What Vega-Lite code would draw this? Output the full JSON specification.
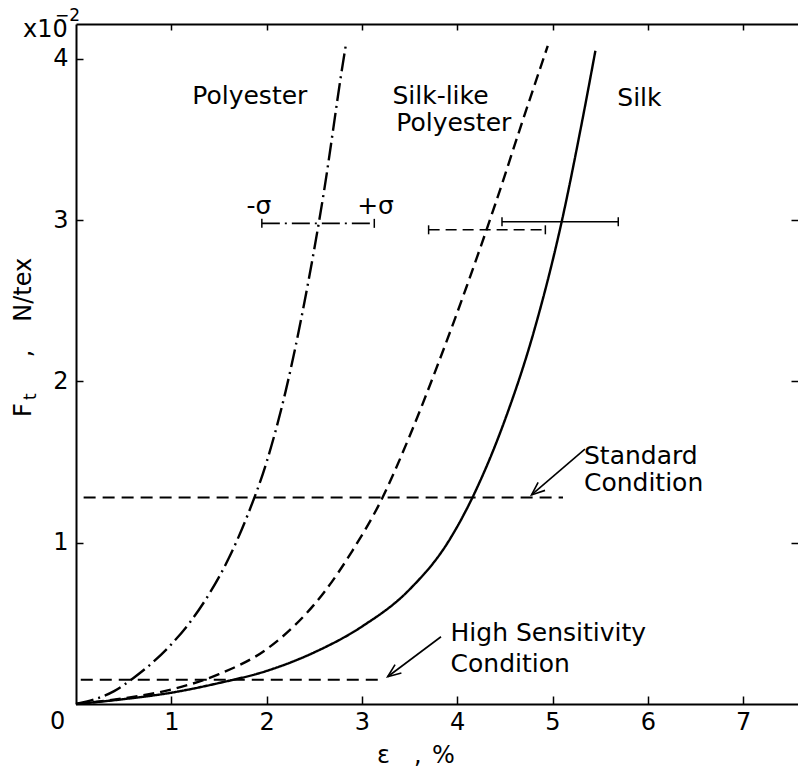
{
  "$schema": "https://vega.github.io/schema/vega-lite/v6.json",
  "width": 722,
  "height": 680,
  "autosize": {"type": "none"},
  "padding": {"left": 76, "top": 24, "right": 0, "bottom": 66},
  "background": "white",
  "config": {
    "view": {"stroke": null},
    "font": "DejaVu Sans",
    "axis": {"domainColor": "black", "tickColor": "black", "labelColor": "black", "grid": false, "labelFont": "DejaVu Sans", "labelFontSize": 24, "domainWidth": 2, "tickWidth": 1.5}
  },
  "datasets": {
    "curves": [
      {"series": "Polyester", "e": 0, "f": 0},
      {"series": "Polyester", "e": 0.2, "f": 0.03},
      {"series": "Polyester", "e": 0.4, "f": 0.08},
      {"series": "Polyester", "e": 0.6, "f": 0.16},
      {"series": "Polyester", "e": 0.8, "f": 0.255},
      {"series": "Polyester", "e": 1.0, "f": 0.37},
      {"series": "Polyester", "e": 1.2, "f": 0.51},
      {"series": "Polyester", "e": 1.4, "f": 0.685},
      {"series": "Polyester", "e": 1.6, "f": 0.9},
      {"series": "Polyester", "e": 1.8, "f": 1.17},
      {"series": "Polyester", "e": 2.0, "f": 1.5},
      {"series": "Polyester", "e": 2.2, "f": 1.94},
      {"series": "Polyester", "e": 2.4, "f": 2.5},
      {"series": "Polyester", "e": 2.6, "f": 3.17},
      {"series": "Polyester", "e": 2.8, "f": 3.97},
      {"series": "Polyester", "e": 2.83, "f": 4.08},
      {"series": "Silk-like Polyester", "e": 0, "f": 0},
      {"series": "Silk-like Polyester", "e": 0.5, "f": 0.035},
      {"series": "Silk-like Polyester", "e": 1.0, "f": 0.09},
      {"series": "Silk-like Polyester", "e": 1.5, "f": 0.185},
      {"series": "Silk-like Polyester", "e": 2.0, "f": 0.34},
      {"series": "Silk-like Polyester", "e": 2.3, "f": 0.49},
      {"series": "Silk-like Polyester", "e": 2.6, "f": 0.69},
      {"series": "Silk-like Polyester", "e": 2.9, "f": 0.95},
      {"series": "Silk-like Polyester", "e": 3.2, "f": 1.26},
      {"series": "Silk-like Polyester", "e": 3.5, "f": 1.66},
      {"series": "Silk-like Polyester", "e": 3.8, "f": 2.11},
      {"series": "Silk-like Polyester", "e": 4.1, "f": 2.59},
      {"series": "Silk-like Polyester", "e": 4.4, "f": 3.1},
      {"series": "Silk-like Polyester", "e": 4.7, "f": 3.64},
      {"series": "Silk-like Polyester", "e": 4.95, "f": 4.08},
      {"series": "Silk", "e": 0, "f": 0},
      {"series": "Silk", "e": 0.5, "f": 0.03},
      {"series": "Silk", "e": 1.0, "f": 0.07},
      {"series": "Silk", "e": 1.5, "f": 0.13},
      {"series": "Silk", "e": 2.0, "f": 0.205},
      {"series": "Silk", "e": 2.5, "f": 0.32},
      {"series": "Silk", "e": 3.0, "f": 0.48},
      {"series": "Silk", "e": 3.5, "f": 0.71},
      {"series": "Silk", "e": 3.9, "f": 1.0},
      {"series": "Silk", "e": 4.2, "f": 1.33},
      {"series": "Silk", "e": 4.5, "f": 1.76},
      {"series": "Silk", "e": 4.8, "f": 2.3},
      {"series": "Silk", "e": 5.1, "f": 3.0},
      {"series": "Silk", "e": 5.3, "f": 3.58},
      {"series": "Silk", "e": 5.45, "f": 4.05}
    ],
    "hlines": [
      {"name": "Standard Condition", "e1": 0.08, "e2": 5.11, "f": 1.28},
      {"name": "High Sensitivity Condition", "e1": 0.05, "e2": 3.23, "f": 0.15}
    ],
    "bars": [
      {"series": "Polyester", "e1": 1.95, "e2": 3.13, "f": 2.98},
      {"series": "Silk-like Polyester", "e1": 3.7, "e2": 4.925, "f": 2.94},
      {"series": "Silk", "e1": 4.47, "e2": 5.69, "f": 2.99}
    ],
    "caps": [
      {"e": 1.95, "f": 2.98}, {"e": 3.13, "f": 2.98},
      {"e": 3.7, "f": 2.94}, {"e": 4.925, "f": 2.94},
      {"e": 4.47, "f": 2.99}, {"e": 5.69, "f": 2.99}
    ],
    "arrows": [
      {"name": "Standard", "e1": 5.34, "f1": 1.58, "e2": 4.78, "f2": 1.296},
      {"name": "High", "e1": 3.83, "f1": 0.417, "e2": 3.27, "f2": 0.169}
    ],
    "labels": [
      {"e": 1.22, "f": 3.72, "t": "Polyester"},
      {"e": 3.32, "f": 3.72, "t": "Silk-like"},
      {"e": 3.36, "f": 3.55, "t": "Polyester"},
      {"e": 5.68, "f": 3.71, "t": "Silk"},
      {"e": 1.79, "f": 3.04, "t": "-σ"},
      {"e": 2.95, "f": 3.04, "t": "+σ"},
      {"e": 5.33, "f": 1.49, "t": "Standard"},
      {"e": 5.33, "f": 1.32, "t": "Condition"},
      {"e": 3.93, "f": 0.392, "t": "High Sensitivity"},
      {"e": 3.93, "f": 0.2, "t": "Condition"}
    ],
    "plain": [
      {"e": -0.273, "f": -0.155, "t": "0"},
      {"e": -0.556, "f": 4.135, "t": "x10"},
      {"e": 3.158, "f": -0.366, "t": "ε"},
      {"e": 3.547, "f": -0.366, "t": ","},
      {"e": 3.736, "f": -0.366, "t": "%"}
    ],
    "small": [
      {"e": -0.22, "f": 4.235, "t": "−2"}
    ],
    "ytitle": [
      {"e": -0.47, "f": 1.78, "t": "F"},
      {"e": -0.47, "f": 2.15, "t": ","},
      {"e": -0.47, "f": 2.37, "t": "N/tex"}
    ],
    "ysub": [
      {"e": -0.415, "f": 1.885, "t": "t"}
    ]
  },
  "resolve": {"axis": {"x": "independent", "y": "independent"}},
  "layer": [
    {
      "data": {"name": "curves"},
      "mark": {"type": "line", "interpolate": "monotone", "color": "black", "strokeWidth": 2.4},
      "encoding": {
        "x": {"field": "e", "type": "quantitative", "scale": {"domain": [0, 7.576], "nice": false, "zero": false},
              "axis": {"orient": "bottom", "values": [1, 2, 3, 4, 5, 6, 7], "tickSize": -8, "labelPadding": 14, "title": null}},
        "y": {"field": "f", "type": "quantitative", "scale": {"domain": [0, 4.216], "nice": false, "zero": false},
              "axis": {"orient": "left", "values": [1, 2, 3, 4], "tickSize": -7, "labelPadding": 15, "title": null}},
        "detail": {"field": "series", "type": "nominal"},
        "strokeDash": {"field": "series", "type": "nominal", "legend": null,
                       "scale": {"domain": ["Polyester", "Silk-like Polyester", "Silk"], "range": [[18, 5, 2, 5], [11, 6], [1, 0]]}}
      }
    },
    {
      "data": {"name": "hlines"},
      "mark": {"type": "rule", "color": "black", "strokeWidth": 2, "strokeDash": [12, 7]},
      "encoding": {
        "x": {"field": "e1", "type": "quantitative", "scale": {"domain": [0, 7.576], "nice": false, "zero": false},
              "axis": {"orient": "top", "values": [1, 2, 3, 4, 5, 6, 7], "tickSize": -6, "labels": false, "title": null}},
        "x2": {"field": "e2"},
        "y": {"field": "f", "type": "quantitative", "scale": {"domain": [0, 4.216], "nice": false, "zero": false},
              "axis": {"orient": "right", "values": [1, 2, 3], "tickSize": -7, "labels": false, "domain": false, "title": null}}
      }
    },
    {
      "data": {"name": "bars"},
      "mark": {"type": "rule", "color": "black", "strokeWidth": 1.6},
      "encoding": {
        "x": {"field": "e1", "type": "quantitative", "axis": null},
        "x2": {"field": "e2"},
        "y": {"field": "f", "type": "quantitative", "axis": null},
        "strokeDash": {"field": "series", "type": "nominal", "legend": null,
                       "scale": {"domain": ["Polyester", "Silk-like Polyester", "Silk"], "range": [[10, 4, 2, 4], [6, 4], [1, 0]]}}
      }
    },
    {
      "data": {"name": "caps"},
      "mark": {"type": "tick", "orient": "vertical", "color": "black", "size": 9, "thickness": 1.5, "opacity": 1},
      "encoding": {
        "x": {"field": "e", "type": "quantitative", "axis": null},
        "y": {"field": "f", "type": "quantitative", "axis": null}
      }
    },
    {
      "data": {"name": "arrows"},
      "mark": {"type": "rule", "color": "black", "strokeWidth": 1.6},
      "encoding": {
        "x": {"field": "e1", "type": "quantitative", "axis": null},
        "y": {"field": "f1", "type": "quantitative", "axis": null},
        "x2": {"field": "e2"},
        "y2": {"field": "f2"}
      }
    },
    {
      "data": {"name": "arrows"},
      "transform": [{"filter": "datum.name === 'Standard'"}],
      "mark": {"type": "point", "shape": "M -0.4 1 L 0 0 L 0.4 1", "filled": false, "stroke": "black", "strokeWidth": 1.6, "size": 700, "angle": 229.4, "opacity": 1},
      "encoding": {
        "x": {"field": "e2", "type": "quantitative", "axis": null},
        "y": {"field": "f2", "type": "quantitative", "axis": null}
      }
    },
    {
      "data": {"name": "arrows"},
      "transform": [{"filter": "datum.name === 'High'"}],
      "mark": {"type": "point", "shape": "M -0.4 1 L 0 0 L 0.4 1", "filled": false, "stroke": "black", "strokeWidth": 1.6, "size": 700, "angle": 233.2, "opacity": 1},
      "encoding": {
        "x": {"field": "e2", "type": "quantitative", "axis": null},
        "y": {"field": "f2", "type": "quantitative", "axis": null}
      }
    },
    {
      "data": {"name": "labels"},
      "mark": {"type": "text", "align": "left", "baseline": "alphabetic", "font": "DejaVu Sans", "fontSize": 25, "color": "black"},
      "encoding": {
        "x": {"field": "e", "type": "quantitative", "axis": null},
        "y": {"field": "f", "type": "quantitative", "axis": null},
        "text": {"field": "t"}
      }
    },
    {
      "data": {"name": "plain"},
      "mark": {"type": "text", "align": "left", "baseline": "alphabetic", "font": "DejaVu Sans", "fontSize": 24, "color": "black"},
      "encoding": {
        "x": {"field": "e", "type": "quantitative", "axis": null},
        "y": {"field": "f", "type": "quantitative", "axis": null},
        "text": {"field": "t"}
      }
    },
    {
      "data": {"name": "small"},
      "mark": {"type": "text", "align": "left", "baseline": "alphabetic", "font": "DejaVu Sans", "fontSize": 17, "color": "black"},
      "encoding": {
        "x": {"field": "e", "type": "quantitative", "axis": null},
        "y": {"field": "f", "type": "quantitative", "axis": null},
        "text": {"field": "t"}
      }
    },
    {
      "data": {"name": "ytitle"},
      "mark": {"type": "text", "align": "left", "baseline": "alphabetic", "angle": 270, "font": "DejaVu Sans", "fontSize": 24, "color": "black"},
      "encoding": {
        "x": {"field": "e", "type": "quantitative", "axis": null},
        "y": {"field": "f", "type": "quantitative", "axis": null},
        "text": {"field": "t"}
      }
    },
    {
      "data": {"name": "ysub"},
      "mark": {"type": "text", "align": "left", "baseline": "alphabetic", "angle": 270, "font": "DejaVu Sans", "fontSize": 17, "color": "black"},
      "encoding": {
        "x": {"field": "e", "type": "quantitative", "axis": null},
        "y": {"field": "f", "type": "quantitative", "axis": null},
        "text": {"field": "t"}
      }
    }
  ]
}
